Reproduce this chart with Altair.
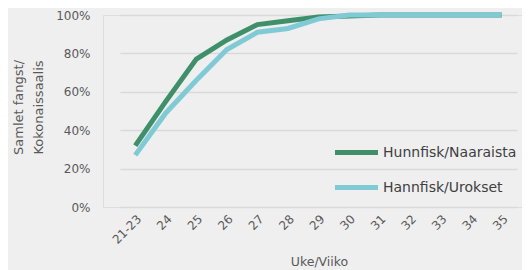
import altair as alt
import pandas as pd

weeks = ["21-23", "24", "25", "26", "27", "28", "29", "30", "31", "32", "33", "34", "35"]
hunnfisk = [0.32, 0.55, 0.77, 0.87, 0.95, 0.97, 0.99, 0.995, 1.0, 1.0, 1.0, 1.0, 1.0]
hannfisk = [0.27, 0.49, 0.66, 0.82, 0.91, 0.93, 0.98, 1.0, 1.0, 1.0, 1.0, 1.0, 1.0]
series = ["Hunnfisk/Naaraista", "Hannfisk/Urokset"]
colors = ["#3f8f6b", "#80cad5"]

rows = []
for name, vals in zip(series, [hunnfisk, hannfisk]):
    for w, v in zip(weeks, vals):
        rows.append({"Uke": w, "Andel": v, "Serie": name})
df = pd.DataFrame(rows)

FONT = "DejaVu Sans"
TXT = "#595959"

chart = alt.Chart(df).mark_line(strokeWidth=5, strokeCap="butt").encode(
    x=alt.X("Uke:O", sort=weeks, title="Uke/Viiko",
            scale=alt.Scale(type="point", range=[17, 414]),
            axis=alt.Axis(labelAngle=315, ticks=False, domain=False, grid=False,
                          labelFontSize=12, labelColor=TXT, labelPadding=6,
                          titleFontSize=12.5, titleColor=TXT, titleFontWeight="normal",
                          titleY=48, titleX=216)),
    y=alt.Y("Andel:Q", title=["Samlet fangst/", "Kokonaissaalis"],
            scale=alt.Scale(domain=[0, 1]),
            axis=alt.Axis(format=".0%", values=[0, 0.2, 0.4, 0.6, 0.8, 1.0],
                          ticks=False, domain=False, gridColor="#d9d9d9", gridWidth=1.5,
                          labelFontSize=12, labelColor=TXT, labelPadding=13,
                          titleFontSize=13, titleColor=TXT, titleFontWeight="normal",
                          titleLineHeight=20,
                          titleX=-78, titleY=92, titleAlign="center", titleAngle=270)),
    color=alt.Color("Serie:N", sort=series,
                    scale=alt.Scale(domain=series, range=colors),
                    legend=alt.Legend(title=None, orient="none", legendX=229, legendY=113,
                                      symbolType="stroke", symbolSize=1850, symbolStrokeWidth=5,
                                      labelFontSize=14, labelColor="#404040", rowPadding=0,
                                      labelOffset=2)),
).properties(
    width=419, height=192,
    background="#efefef",
    autosize=alt.AutoSizeParams(type="none"),
    padding={"left": 95, "top": 7, "right": 0, "bottom": 63},
).configure_view(stroke=None).configure(font=FONT)

chart.save("out.html", embed_options={"renderer": "svg", "actions": False})
